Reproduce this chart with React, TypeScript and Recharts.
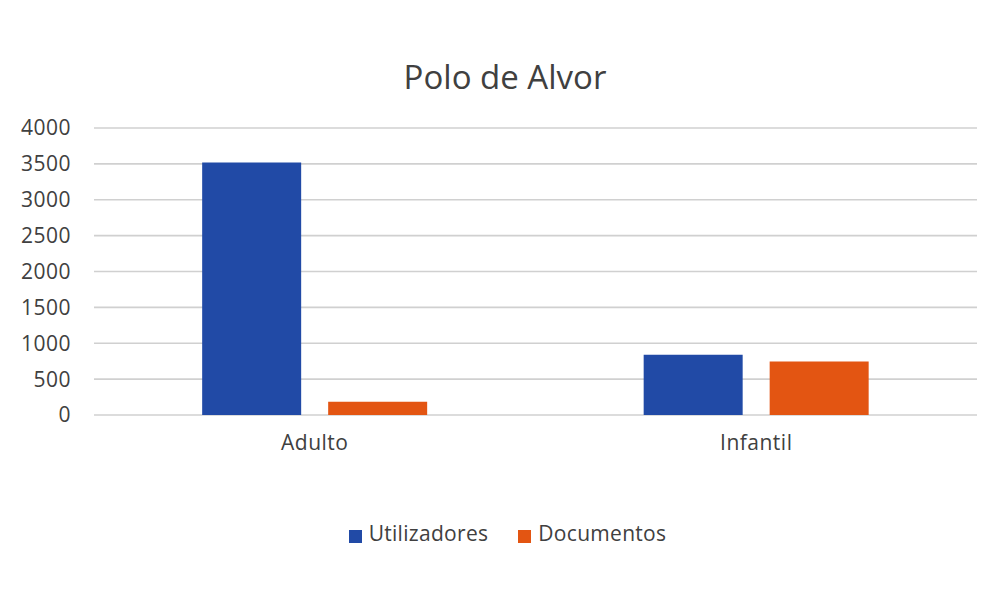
import { Bar, BarChart, CartesianGrid, Legend, XAxis, YAxis } from "recharts";

const categories = ["Adulto", "Infantil"];
const utilizadores = [3520, 840];
const documentos = [185, 745];
const yTicks = [0, 500, 1000, 1500, 2000, 2500, 3000, 3500, 4000];
const seriesOrder = ["Utilizadores", "Documentos"];

const data = categories.map((name, i) => ({
  name,
  Utilizadores: utilizadores[i],
  Documentos: documentos[i],
}));

const FONT = "'Open Sans', 'Noto Sans', sans-serif";
const TEXT = "#404040";

const App = () => {
  return (
    <div
      style={{
        position: "absolute",
        left: 0,
        top: 0,
        width: 995,
        height: 601,
        background: "#fff",
        fontFamily: FONT,
      }}
    >
      <div
        style={{
          position: "absolute",
          top: 57,
          left: 0,
          width: 1010,
          textAlign: "center",
          fontSize: 33,
          color: TEXT,
          lineHeight: "40px",
        }}
      >
        Polo de Alvor
      </div>
      <BarChart
        width={995}
        height={601}
        data={data}
        margin={{ top: 128, right: 18, left: 0, bottom: 54 }}
        barCategoryGap="24.5%"
        barGap={27}
      >
        <CartesianGrid vertical={false} stroke="#d0d0d0" strokeWidth={1.6} />
        <XAxis
          dataKey="name"
          axisLine={false}
          tickLine={false}
          tickSize={0}
          tickMargin={20}
          height={104}
          tick={{ fill: TEXT, fontSize: 21, fontFamily: FONT, letterSpacing: 0.5 }}
        />
        <YAxis
          domain={[0, 4000]}
          ticks={yTicks}
          axisLine={false}
          tickLine={false}
          tickSize={0}
          tickMargin={23}
          width={94}
          interval={0}
          tick={{ fill: TEXT, fontSize: 21, fontFamily: FONT, letterSpacing: 0.5 }}
        />
        <Legend
          verticalAlign="bottom"
          align="center"
          iconType="square"
          iconSize={13}
          itemSorter={(item: any) => seriesOrder.indexOf(item.value)}
          formatter={(value) => (
            <span
              style={{
                color: TEXT,
                fontSize: 21,
                fontFamily: FONT,
                letterSpacing: 0.3,
                marginLeft: 3,
                marginRight: 20,
              }}
            >
              {value}
            </span>
          )}
          wrapperStyle={{ paddingLeft: 34 }}
        />
        <Bar dataKey="Utilizadores" fill="#214AA6" isAnimationActive={false} />
        <Bar dataKey="Documentos" fill="#E35512" isAnimationActive={false} />
      </BarChart>
    </div>
  );
};

export default App;
